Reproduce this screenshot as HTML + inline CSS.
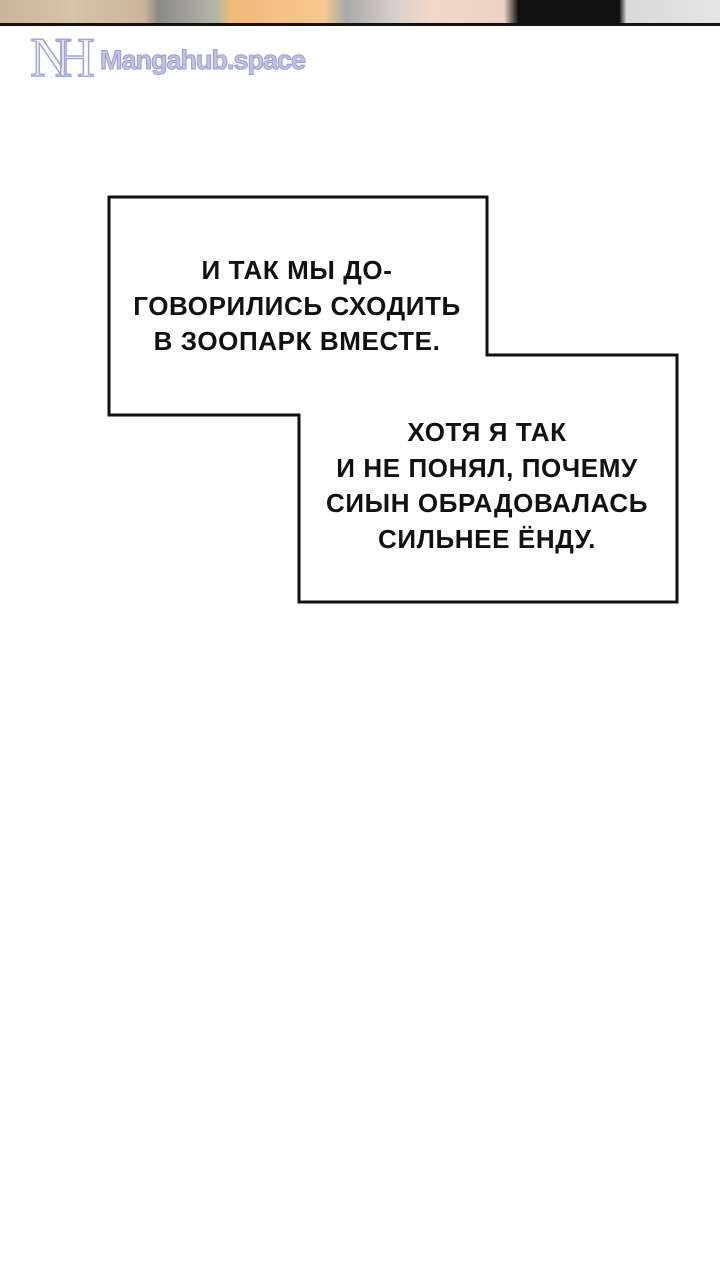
<!DOCTYPE html>
<html><head><meta charset="utf-8"><style>
html,body{margin:0;padding:0;background:#fff;}
body{width:720px;height:1280px;position:relative;overflow:hidden;font-family:"Liberation Sans",sans-serif;}
.strip{position:absolute;left:0;top:0;width:720px;height:23px;background:linear-gradient(90deg,#c9b49c 0,#d8c4a8 10%,#cbb49a 20%,#8a8a86 22%,#b5b5a8 30%,#f0b87a 32%,#f6c890 45%,#a9a9a9 48%,#d9d0cc 55%,#f2d8c8 60%,#ecd2c4 70%,#111 72%,#111 86%,#d8d8d8 87%,#e6e6e6 100%);border-bottom:3px solid #111;}
.wm{position:absolute;left:100px;top:45px;font-size:27px;color:#c2c2e6;font-weight:bold;-webkit-text-stroke:1px #9c9cd0;letter-spacing:-1px;}
.logo{position:absolute;left:30px;top:28px;font-family:"Liberation Serif",serif;font-size:56px;line-height:60px;color:#fff;-webkit-text-stroke:1.5px #a5a5d5;letter-spacing:-16px;}
.t{position:absolute;text-align:center;font-weight:bold;font-size:26px;line-height:35.5px;color:#111;letter-spacing:0.6px;}
</style></head><body>
<div class="strip"></div>
<div class="logo">NH</div>
<div class="wm">Mangahub.space</div>
<svg width="720" height="1280" style="position:absolute;left:0;top:0">
<polygon points="109,197 487,197 487,355 677,355 677,602 299,602 299,415 109,415" fill="#fff" stroke="#111" stroke-width="3"/>
</svg>
<div class="t" style="left:97px;width:400px;top:253px;">И ТАК МЫ ДО-<br>ГОВОРИЛИСЬ СХОДИТЬ<br>В ЗООПАРК ВМЕСТЕ.</div>
<div class="t" style="left:287px;width:400px;top:415px;">ХОТЯ Я ТАК<br>И НЕ ПОНЯЛ, ПОЧЕМУ<br>СИЫН ОБРАДОВАЛАСЬ<br>СИЛЬНЕЕ ЁНДУ.</div>
</body></html>
